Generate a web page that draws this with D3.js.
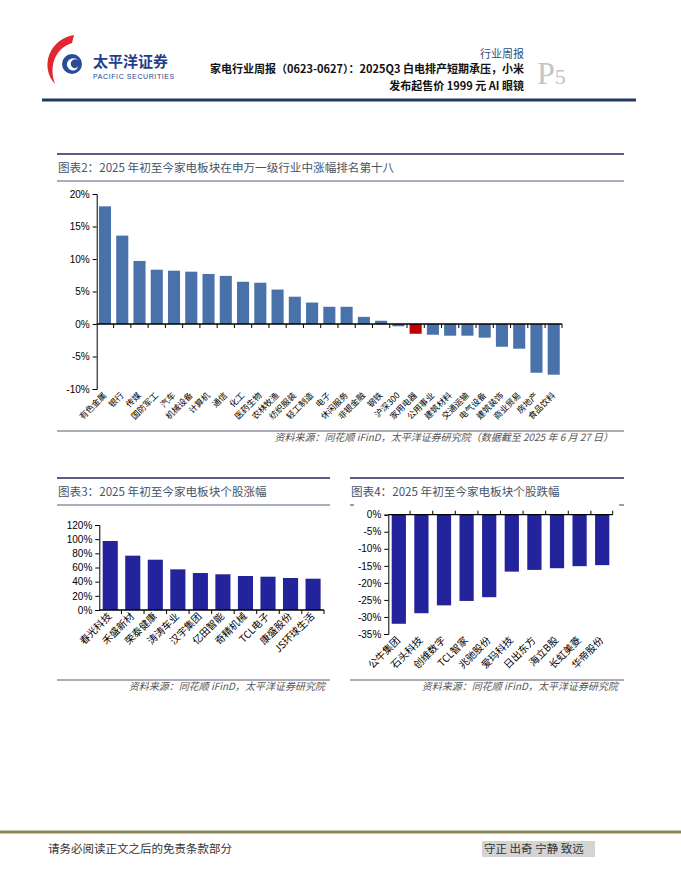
<!DOCTYPE html>
<html lang="zh-CN">
<head>
<meta charset="UTF-8">
<script src="https://d3js.org/d3.v7.min.js"></script>
<style>
  body { margin: 0; background: #fff; }
  svg { display: block; }
  .cjk { font-family: "Noto Sans CJK SC", sans-serif; }
  .num { font-family: "Liberation Sans", Arial, sans-serif; }
</style>
</head>
<body>
<div id="page"></div>
<script>
// 图表2 数据：申万一级行业 2025 年初至今涨跌幅 (%)
const industries = ["有色金属","银行","传媒","国防军工","汽车","机械设备","计算机","通信","化工","医药生物",
  "农林牧渔","纺织服装","轻工制造","电子","休闲服务","非银金融","钢铁","沪深300","家用电器","公用事业",
  "建筑材料","交通运输","电气设备","建筑装饰","商业贸易","房地产","食品饮料"];
const industryChange = [18.1, 13.6, 9.7, 8.35, 8.2, 8.05, 7.7, 7.4, 6.5, 6.35,
  5.3, 4.2, 3.3, 2.65, 2.65, 1.1, 0.5, -0.35, -1.5, -1.65,
  -1.8, -1.8, -2.1, -3.5, -3.8, -7.5, -7.8];
const industryTicks = [-10, -5, 0, 5, 10, 15, 20];

// 图表3 数据：个股涨幅 (%)
const gainers = ["春光科技","禾盛新材","荣泰健康","涛涛车业","汉宇集团","亿田智能","奇精机械","TCL电子","康盛股份","JS环球生活"];
const gainValues = [97.4, 76.7, 71.0, 57.4, 52.2, 50.4, 48.0, 47.0, 45.2, 44.2];
const gainTicks = [0, 20, 40, 60, 80, 100, 120];

// 图表4 数据：个股跌幅 (%)
const losers = ["公牛集团","石头科技","创维数字","TCL智家","兆驰股份","爱玛科技","日出东方","海立B股","长虹美菱","华帝股份"];
const lossValues = [-32.0, -28.9, -26.6, -25.3, -24.2, -16.7, -16.2, -15.7, -15.1, -14.8];
const lossTicks = [-35, -30, -25, -20, -15, -10, -5, 0];

const W = 681, H = 881;
const svg = d3.select("#page").append("svg").attr("width", W).attr("height", H);

// ---------- 页眉 ----------
const logo = svg.append("g");
logo.append("path")
  .attr("d", "M74,35 C50,39 39,66 55,84 C49,67 54,49 72,43 Z")
  .attr("fill", "#e0282e");
logo.append("circle").attr("cx", 72).attr("cy", 64).attr("r", 10).attr("fill", "#2a4a9a");
logo.append("path")
  .attr("d", "M67,66 C66,59 74,56 78,60 C74,58 70,61 71,65 C72,69 77,69 78,66 C78,71 70,73 67,66 Z")
  .attr("fill", "#fff");
svg.append("text").attr("class", "cjk").attr("x", 93).attr("y", 67)
  .attr("font-size", 15).attr("font-weight", 700).attr("fill", "#1f3f8a").text("太平洋证券");
svg.append("text").attr("class", "num").attr("x", 93).attr("y", 79)
  .attr("font-size", 7).attr("letter-spacing", 0.6).attr("fill", "#1f3f8a").text("PACIFIC SECURITIES");

svg.append("text").attr("class", "cjk").attr("x", 524).attr("y", 58).attr("text-anchor", "end")
  .attr("font-size", 11).attr("fill", "#2f4f7f").text("行业周报");
svg.append("text").attr("class", "cjk").attr("x", 524).attr("y", 73).attr("text-anchor", "end")
  .attr("font-size", 11).attr("font-weight", 700).attr("fill", "#111")
  .text("家电行业周报（0623-0627）：2025Q3 白电排产短期承压，小米");
svg.append("text").attr("class", "cjk").attr("x", 524).attr("y", 90).attr("text-anchor", "end")
  .attr("font-size", 11).attr("font-weight", 700).attr("fill", "#111")
  .text("发布起售价 1999 元 AI 眼镜");
const p5 = svg.append("text").attr("x", 537).attr("y", 84)
  .attr("font-family", "'Liberation Serif', serif").attr("fill", "#c4c4c4");
p5.append("tspan").attr("font-size", 32).text("P");
p5.append("tspan").attr("font-size", 22).text("5");
svg.append("line").attr("x1", 42).attr("x2", 636).attr("y1", 100).attr("y2", 100)
  .attr("stroke", "#1f3864").attr("stroke-width", 3);

// ---------- 通用 ----------
const bandColor = "#5b5b82";
function titleBand(x1, x2, yTop, yBot, title, fullBottom) {
  svg.append("line").attr("x1", x1).attr("x2", x2).attr("y1", yTop).attr("y2", yTop)
    .attr("stroke", bandColor).attr("stroke-width", 2);
  if (fullBottom) {
    svg.append("line").attr("x1", x1).attr("x2", x2).attr("y1", yBot).attr("y2", yBot)
      .attr("stroke", bandColor).attr("stroke-width", 1.2);
  } else {
    // 下边线大部分被图表底色遮住，只露出两端
    [[x1, x1 + 4], [x2 - 5, x2]].forEach(s => svg.append("line")
      .attr("x1", s[0]).attr("x2", s[1]).attr("y1", yBot).attr("y2", yBot)
      .attr("stroke", bandColor).attr("stroke-width", 1.2));
  }
  svg.append("text").attr("class", "cjk").attr("x", x1 + 1).attr("y", (yTop + yBot) / 2 + 4)
    .attr("font-size", 11.6).attr("fill", "#44546a").text(title);
}
function sourceLine(x1, x2, y, xr, text) {
  svg.append("line").attr("x1", x1).attr("x2", x2).attr("y1", y).attr("y2", y)
    .attr("stroke", "#5b5b6e").attr("stroke-width", 1.2);
  svg.append("text").attr("class", "cjk").attr("x", xr).attr("y", y + 10).attr("text-anchor", "end")
    .attr("font-size", 10).attr("font-style", "italic").attr("fill", "#555").text(text);
}
function yAxis(g, y, ticks, x0) {
  const ax = g.append("g").attr("transform", `translate(${x0},0)`)
    .call(d3.axisLeft(y).tickValues(ticks).tickSize(4).tickPadding(3).tickFormat(d => d + "%"));
  ax.selectAll("path, line").attr("stroke", "#000");
  ax.selectAll("text").attr("class", "num").attr("font-size", 10).attr("fill", "#000");
}
function xBaseline(g, x, yPos, down) {
  const r = x.range();
  g.append("line").attr("x1", r[0]).attr("x2", r[1]).attr("y1", yPos).attr("y2", yPos)
    .attr("stroke", "#000").attr("stroke-width", 1.3);
  const bounds = x.domain().map(d => x(d) - x.step() * x.paddingInner() / 2).slice(1).concat([r[1]]);
  g.selectAll(null).data(bounds).enter().append("line")
    .attr("x1", d => d).attr("x2", d => d).attr("y1", yPos).attr("y2", yPos + down)
    .attr("stroke", "#000");
}
function xLabels(g, x, yPos, size) {
  g.selectAll(null).data(x.domain()).enter().append("text")
    .attr("class", "cjk").attr("font-size", size).attr("fill", "#000").attr("text-anchor", "end")
    .attr("transform", d => `translate(${x(d) + x.bandwidth() / 2 + 2},${yPos}) rotate(-45)`)
    .text(d => d);
}

// ---------- 图表2 ----------
titleBand(57, 624, 154, 181, "图表2：2025 年初至今家电板块在申万一级行业中涨幅排名第十八", true);
const g2 = svg.append("g");
const x2 = d3.scaleBand().domain(industries).range([96.7, 562]).paddingInner(0.3).paddingOuter(0.13);
const y2 = d3.scaleLinear().domain([-10, 20]).range([389, 194]);
g2.selectAll("rect").data(industries).enter().append("rect")
  .attr("x", d => x2(d))
  .attr("width", x2.bandwidth())
  .attr("y", (d, i) => y2(Math.max(0, industryChange[i])))
  .attr("height", (d, i) => Math.abs(y2(industryChange[i]) - y2(0)))
  .attr("fill", d => d === "家用电器" ? "#c00000" : "#4a72aa");
yAxis(g2, y2, industryTicks, 96.7);
xBaseline(g2, x2, y2(0), 4);
xLabels(g2, x2, 396, 8.5);
sourceLine(57, 624, 431, 613, "资料来源：同花顺 iFinD，太平洋证券研究院（数据截至 2025 年 6 月 27 日）");

// ---------- 图表3 ----------
titleBand(57, 330, 478, 505, "图表3：2025 年初至今家电板块个股涨幅", true);
const g3 = svg.append("g");
const x3 = d3.scaleBand().domain(gainers).range([99.3, 324]).paddingInner(0.33).paddingOuter(0.15);
const y3 = d3.scaleLinear().domain([0, 120]).range([610, 525]);
g3.selectAll("rect").data(gainers).enter().append("rect")
  .attr("x", d => x3(d))
  .attr("width", x3.bandwidth())
  .attr("y", (d, i) => y3(gainValues[i]))
  .attr("height", (d, i) => y3(0) - y3(gainValues[i]))
  .attr("fill", "#23239b");
yAxis(g3, y3, gainTicks, 99.3);
xBaseline(g3, x3, y3(0), 4);
xLabels(g3, x3, 617, 10);
sourceLine(57, 330, 680, 325, "资料来源：同花顺 iFinD，太平洋证券研究院");

// ---------- 图表4 ----------
titleBand(350, 624, 478, 505, "图表4：2025 年初至今家电板块个股跌幅", false);
const g4 = svg.append("g");
const x4 = d3.scaleBand().domain(losers).range([388.3, 612.7]).paddingInner(0.37).paddingOuter(0.15);
const y4 = d3.scaleLinear().domain([-35, 0]).range([634, 514.7]);
g4.selectAll("rect").data(losers).enter().append("rect")
  .attr("x", d => x4(d))
  .attr("width", x4.bandwidth())
  .attr("y", y4(0))
  .attr("height", (d, i) => y4(lossValues[i]) - y4(0))
  .attr("fill", "#23239b");
yAxis(g4, y4, lossTicks, 388.3);
xBaseline(g4, x4, y4(0), -4);
xLabels(g4, x4, 641, 10);
sourceLine(350, 624, 680, 618, "资料来源：同花顺 iFinD，太平洋证券研究院");

// ---------- 页脚 ----------
svg.append("line").attr("x1", 0).attr("x2", W).attr("y1", 832).attr("y2", 832)
  .attr("stroke", "#8b8558").attr("stroke-width", 3);
svg.append("text").attr("class", "cjk").attr("x", 48).attr("y", 853)
  .attr("font-size", 11.5).attr("fill", "#333").text("请务必阅读正文之后的免责条款部分");
svg.append("rect").attr("x", 482).attr("y", 841).attr("width", 113).attr("height", 16).attr("fill", "#d4d4d4");
svg.append("text").attr("class", "cjk").attr("x", 484).attr("y", 853)
  .attr("font-size", 11.5).attr("fill", "#333").text("守正 出奇 宁静 致远");
</script>
</body>
</html>
